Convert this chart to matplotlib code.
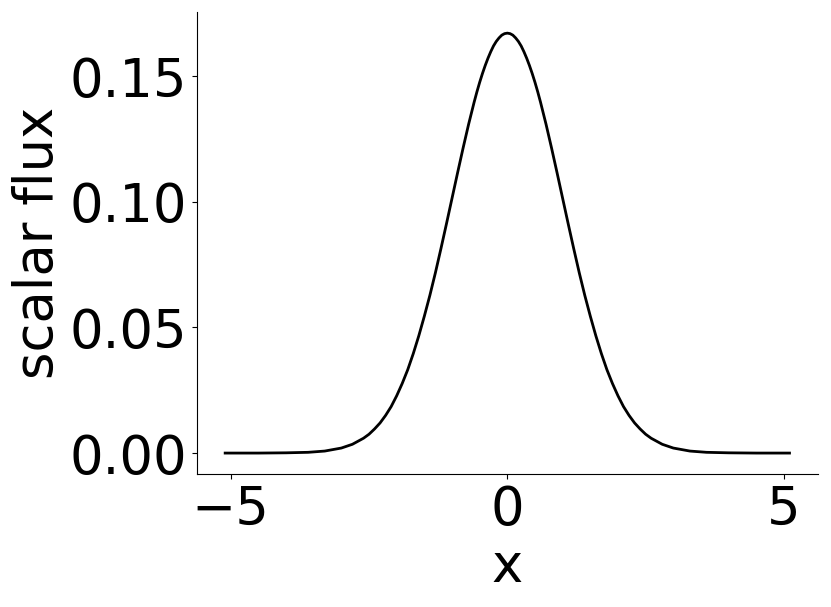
import matplotlib
matplotlib.use("Agg")
import matplotlib.pyplot as plt

# half profile (curve is symmetric about x = 0)
x_half = [0.0, 0.05, 0.1, 0.15, 0.2, 0.25, 0.3, 0.35, 0.4, 0.45, 0.5, 0.55, 0.6, 0.7, 0.8, 0.9,
          1.0, 1.1, 1.2, 1.3, 1.4, 1.5, 1.6, 1.7, 1.8, 1.9,
          2.0, 2.1, 2.2, 2.3, 2.4, 2.5, 2.6, 2.8, 3.0, 3.3, 3.6, 4.0, 4.5, 5.1]
flux_half = [0.1672, 0.1670, 0.1664, 0.1653, 0.1639, 0.1621, 0.1598, 0.1572, 0.1543, 0.1511,
             0.1476, 0.1438, 0.1397, 0.1309, 0.1214, 0.1115,
             0.1014, 0.0913, 0.0814, 0.0718, 0.0628, 0.0545, 0.0467, 0.0396, 0.0332, 0.0277,
             0.0228, 0.0185, 0.0150, 0.0120, 0.0096, 0.0075, 0.0059, 0.0035, 0.0020, 0.0008,
             0.0003, 0.0001, 0.0, 0.0]

x = [-v for v in x_half[:0:-1]] + x_half
flux = flux_half[:0:-1] + flux_half

fig = plt.figure(figsize=(8.31, 6.07), dpi=100)
ax = fig.add_subplot(111)
fig.subplots_adjust(left=0.237, right=0.984, bottom=0.219, top=0.980)

ax.plot(x, flux, color="black", lw=2)

ax.set_xlabel("x", fontsize=38)
ax.set_ylabel("scalar flux", fontsize=38)
ax.set_xticks([-5, 0, 5])
ax.set_yticks([0.0, 0.05, 0.10, 0.15])
ax.tick_params(labelsize=38)
ax.spines["top"].set_visible(False)
ax.spines["right"].set_visible(False)

fig.savefig("out.png", dpi=100)
